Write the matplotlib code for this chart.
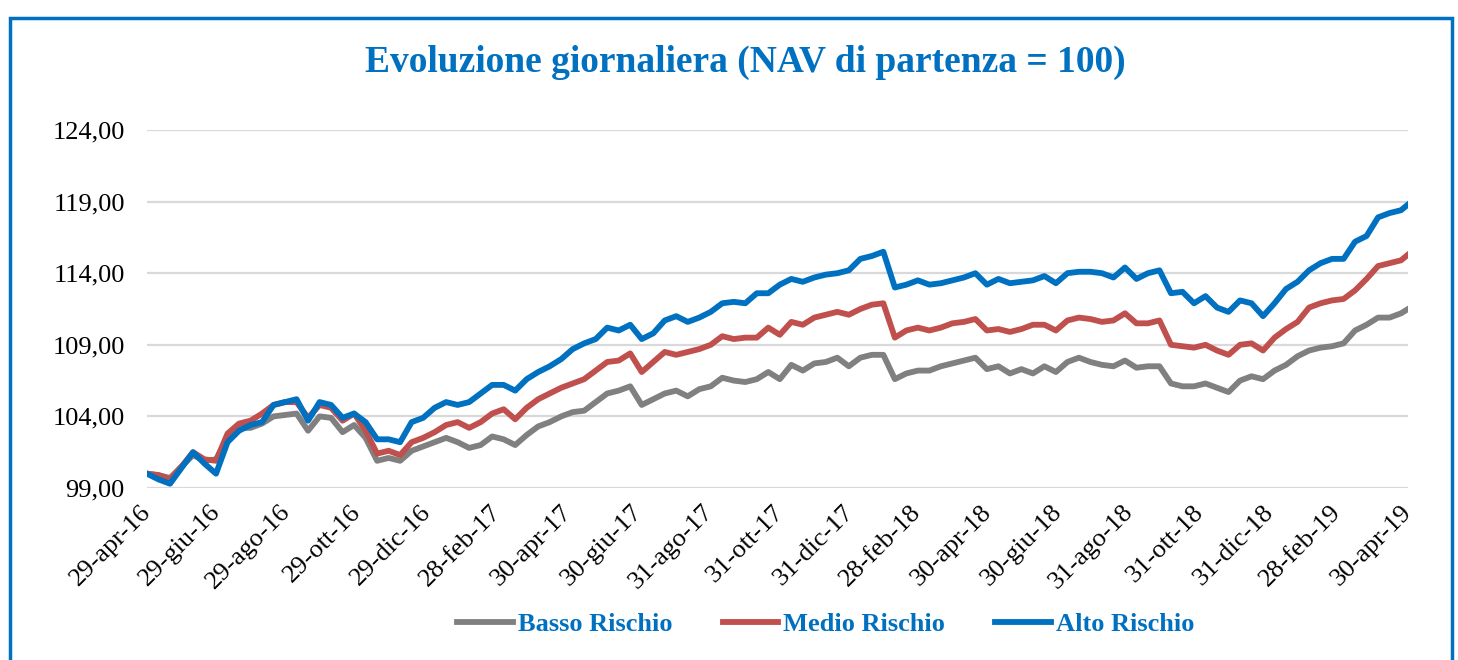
import matplotlib
matplotlib.use("Agg")
import matplotlib.pyplot as plt
import matplotlib.ticker as mticker
from matplotlib.patches import Rectangle
import pandas as pd

# dates sampled every 10 days, plus the last NAV date
dates = list(pd.date_range("2016-04-29", periods=110, freq="10D")) + [pd.Timestamp("2019-04-30")]

alto = [100.0, 99.6, 99.3, 100.4, 101.5, 100.7, 100.0, 102.2, 103.0, 103.4,
        103.6, 104.8, 105.0, 105.2, 103.7, 105.0, 104.8, 103.9, 104.2, 103.6,
        102.4, 102.4, 102.2, 103.6, 103.9, 104.6, 105.0, 104.8, 105.0, 105.6,
        106.2, 106.2, 105.8, 106.6, 107.1, 107.5, 108.0, 108.7, 109.1, 109.4,
        110.2, 110.0, 110.4, 109.4, 109.8, 110.7, 111.0, 110.6, 110.9, 111.3,
        111.9, 112.0, 111.9, 112.6, 112.6, 113.2, 113.6, 113.4, 113.7, 113.9,
        114.0, 114.2, 115.0, 115.2, 115.5, 113.0, 113.2, 113.5, 113.2, 113.3,
        113.5, 113.7, 114.0, 113.2, 113.6, 113.3, 113.4, 113.5, 113.8, 113.3,
        114.0, 114.1, 114.1, 114.0, 113.7, 114.4, 113.6, 114.0, 114.2, 112.6,
        112.7, 111.9, 112.4, 111.6, 111.3, 112.1, 111.9, 111.0, 111.9, 112.9,
        113.4, 114.2, 114.7, 115.0, 115.0, 116.2, 116.6, 117.9, 118.2, 118.4,
        118.8]

medio = [100.0, 99.9, 99.6, 100.5, 101.5, 101.0, 100.9, 102.8, 103.5, 103.7,
         104.2, 104.8, 105.0, 105.0, 103.9, 104.8, 104.6, 103.7, 104.2, 103.0,
         101.4, 101.6, 101.3, 102.2, 102.5, 102.9, 103.4, 103.6, 103.2, 103.6,
         104.2, 104.5, 103.8, 104.6, 105.2, 105.6, 106.0, 106.3, 106.6, 107.2,
         107.8, 107.9, 108.4, 107.1, 107.8, 108.5, 108.3, 108.5, 108.7, 109.0,
         109.6, 109.4, 109.5, 109.5, 110.2, 109.7, 110.6, 110.4, 110.9, 111.1,
         111.3, 111.1, 111.5, 111.8, 111.9, 109.5, 110.0, 110.2, 110.0, 110.2,
         110.5, 110.6, 110.8, 110.0, 110.1, 109.9, 110.1, 110.4, 110.4, 110.0,
         110.7, 110.9, 110.8, 110.6, 110.7, 111.2, 110.5, 110.5, 110.7, 109.0,
         108.9, 108.8, 109.0, 108.6, 108.3, 109.0, 109.1, 108.6, 109.5, 110.1,
         110.6, 111.6, 111.9, 112.1, 112.2, 112.8, 113.6, 114.5, 114.7, 114.9,
         115.3]

basso = [100.0, 99.9, 99.7, 100.5, 101.3, 100.9, 101.0, 102.5, 103.2, 103.2,
         103.5, 104.0, 104.1, 104.2, 103.0, 104.0, 103.9, 102.9, 103.4, 102.5,
         100.9, 101.1, 100.9, 101.6, 101.9, 102.2, 102.5, 102.2, 101.8, 102.0,
         102.6, 102.4, 102.0, 102.7, 103.3, 103.6, 104.0, 104.3, 104.4, 105.0,
         105.6, 105.8, 106.1, 104.8, 105.2, 105.6, 105.8, 105.4, 105.9, 106.1,
         106.7, 106.5, 106.4, 106.6, 107.1, 106.6, 107.6, 107.2, 107.7, 107.8,
         108.1, 107.5, 108.1, 108.3, 108.3, 106.6, 107.0, 107.2, 107.2, 107.5,
         107.7, 107.9, 108.1, 107.3, 107.5, 107.0, 107.3, 107.0, 107.5, 107.1,
         107.8, 108.1, 107.8, 107.6, 107.5, 107.9, 107.4, 107.5, 107.5, 106.3,
         106.1, 106.1, 106.3, 106.0, 105.7, 106.5, 106.8, 106.6, 107.2, 107.6,
         108.2, 108.6, 108.8, 108.9, 109.1, 110.0, 110.4, 110.9, 110.9, 111.2,
         111.5]

tick_dates = ["2016-04-29", "2016-06-29", "2016-08-29", "2016-10-29", "2016-12-29",
              "2017-02-28", "2017-04-30", "2017-06-30", "2017-08-31", "2017-10-31",
              "2017-12-31", "2018-02-28", "2018-04-30", "2018-06-30", "2018-08-31",
              "2018-10-31", "2018-12-31", "2019-02-28", "2019-04-30"]
tick_labels = ["29-apr-16", "29-giu-16", "29-ago-16", "29-ott-16", "29-dic-16",
               "28-feb-17", "30-apr-17", "30-giu-17", "31-ago-17", "31-ott-17",
               "31-dic-17", "28-feb-18", "30-apr-18", "30-giu-18", "31-ago-18",
               "31-ott-18", "31-dic-18", "28-feb-19", "30-apr-19"]
y_ticks = [99, 104, 109, 114, 119, 124]

BLUE = "#0070C0"
plt.rcParams["font.family"] = ["Liberation Serif", "DejaVu Serif"]

fig = plt.figure(figsize=(14.58, 6.6), dpi=100)
ax = fig.add_axes([147 / 1458, 1 - 488 / 660, (1408 - 147) / 1458, (488 - 130) / 660])

ax.plot(dates, basso, color="#808080", lw=4.2, label="Basso Rischio", solid_joinstyle="round")
ax.plot(dates, medio, color="#C0504D", lw=4.2, label="Medio Rischio", solid_joinstyle="round")
ax.plot(dates, alto, color=BLUE, lw=4.2, label="Alto Rischio", solid_joinstyle="round")

ax.set_xlim(pd.Timestamp("2016-04-29"), pd.Timestamp("2019-04-30"))
ax.set_ylim(99, 124)
ax.set_yticks(y_ticks)
ax.yaxis.set_major_formatter(mticker.FuncFormatter(lambda v, p: f"{v:.2f}".replace(".", ",")))
ax.set_xticks([pd.Timestamp(d) for d in tick_dates])
ax.set_xticklabels(tick_labels, rotation=45, ha="right", va="center", rotation_mode="anchor")
ax.tick_params(axis="both", length=0, labelsize=19, colors="black")
ax.tick_params(axis="x", pad=15)
ax.tick_params(axis="y", pad=16)
ax.grid(axis="y", color="#D9D9D9", lw=1.6)
ax.set_axisbelow(True)
for s in ax.spines.values():
    s.set_visible(False)

fig.text(745 / 1458, 1 - 62 / 660, "Evoluzione giornaliera (NAV di partenza = 100)",
         ha="center", va="center", color=BLUE, fontsize=27, fontweight="bold")

leg = fig.legend(loc="center", bbox_to_anchor=(826 / 1458, 1 - 624 / 660), ncol=3,
                 frameon=False, handlelength=2.1, handletextpad=0.2, columnspacing=1.9,
                 prop={"size": 19, "weight": "bold"}, labelcolor=BLUE)
for line in leg.get_lines():
    line.set_linewidth(4.2)

# blue frame around the chart
fig.patches.append(Rectangle((10 / 1458, -0.1), (1452 - 10) / 1458, 1.1 - 17.5 / 660,
                             transform=fig.transFigure, fill=False, edgecolor=BLUE, lw=2.5))

fig.savefig("out.png", dpi=100)
